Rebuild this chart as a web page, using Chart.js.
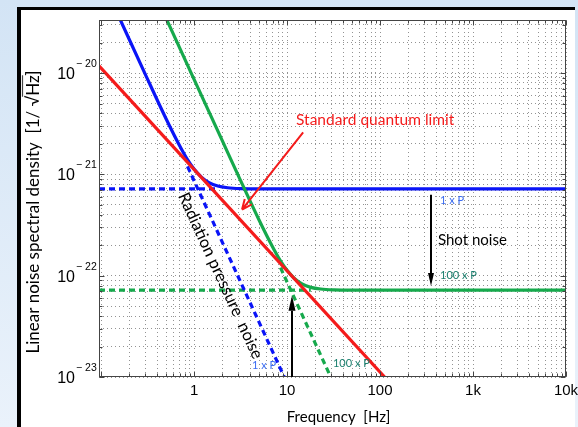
<!DOCTYPE html>
<html>
<head>
<meta charset="utf-8">
<script src="https://cdn.jsdelivr.net/npm/chart.js@4.4.1/dist/chart.umd.min.js"></script>
<style>
  html, body { margin: 0; padding: 0; }
  body { width: 578px; height: 427px; overflow: hidden; position: relative;
         background: linear-gradient(to bottom, #d3e4f5 0%, #eaf2fb 100%); }
  #panel { position: absolute; left: 17px; top: 7px; width: 554px; height: 430px;
           background: #fff; border-left: 4px solid #000; border-top: 3px solid #000; }
  #chart { position: absolute; left: 0; top: 0; }
</style>
</head>
<body>
<div id="panel"></div>
<canvas id="chart" width="578" height="427"></canvas>
<script>
/* ── axis ranges and labels ── */
const freqMin = 0.095, freqMax = 10000;
const noiseMin = 1e-23, noiseMax = 3.35e-20;
const xDecades = [0.1, 1, 10, 100, 1000, 10000];
const xLabels  = ['', '1', '10', '100', '1k', '10k'];
const yDecades = [1e-23, 1e-22, 1e-21, 1e-20];
const yExps    = ['23', '22', '21', '20'];

/* ── series ── */
// total noise, 1 x P
const blueFreq  = [0.15, 0.3, 0.5, 0.7, 0.85, 1.0, 1.2, 1.45, 1.8, 2.3, 3.2, 5, 10000];
const blueNoise = [3.87e-20, 9.69e-21, 3.55e-21, 1.92e-21, 1.40e-21, 1.13e-21, 9.4e-22, 8.3e-22, 7.68e-22, 7.39e-22, 7.25e-22, 7.21e-22, 7.2e-22];
// total noise, 100 x P
const greenFreq  = [0.45, 1, 2, 3, 5, 7, 8.5, 10, 12, 14.5, 18, 23, 32, 50, 10000];
const greenNoise = [4.3e-20, 8.7e-21, 2.18e-21, 9.69e-22, 3.55e-22, 1.92e-22, 1.40e-22, 1.13e-22, 9.4e-23, 8.3e-23, 7.68e-23, 7.39e-23, 7.25e-23, 7.21e-23, 7.2e-23];
// standard quantum limit
const sqlFreq  = [0.095, 112];
const sqlNoise = [1.18e-20, 1.0e-23];
// shot noise / radiation pressure noise (dashed)
const shot1Freq    = [0.095, 1.8];
const shot1Noise   = [7.2e-22, 7.2e-22];
const rp1Freq      = [0.85, 9.33];
const rp1Noise     = [1.2e-21, 1.0e-23];
const shot100Freq  = [0.095, 18];
const shot100Noise = [7.2e-23, 7.2e-23];
const rp100Freq    = [8.5, 29.5];
const rp100Noise   = [1.2e-22, 1.0e-23];

const BLUE = '#0a14f7', RED = '#f41b1b', GREEN = '#16a94c';
const FONT = 'Lato, "Open Sans", sans-serif';
const TICKFONT = '"Liberation Sans", Arial, sans-serif';

const pts = (xs, ys) => xs.map((x, i) => ({ x, y: ys[i] }));

function series(data, color, dashed) {
  return {
    data,
    borderColor: color,
    borderWidth: 3.2,
    borderDash: dashed ? [6, 4] : [],
    pointRadius: 0,
    fill: false,
    cubicInterpolationMode: dashed ? 'default' : 'monotone',
    clip: 0
  };
}

function logTicks(decades, min, max) {
  const out = [];
  decades.forEach(d => {
    for (let k = 1; k <= 9; k++) {
      const v = k * d;
      if (v >= min * 0.999 && v <= max * 1.001) out.push({ value: v });
    }
  });
  return out;
}

const isDecade = v => Math.abs(Math.log10(v) - Math.round(Math.log10(v))) < 1e-6;

function axis(min, max, decades) {
  return {
    type: 'logarithmic',
    min, max,
    afterBuildTicks: ax => { ax.ticks = logTicks(decades, min, max); },
    ticks: { display: false },
    grid: { color: '#939393', lineWidth: 1, drawTicks: false },
    border: { display: false, dash: [1, 3] }
  };
}

/* ── labels, box, annotations ── */
const decor = {
  id: 'decor',
  afterDatasetsDraw(chart) {
    const { ctx, chartArea: a, scales: { x, y } } = chart;
    const P = (f, v) => [x.getPixelForValue(f), y.getPixelForValue(v)];
    ctx.save();

    // box + inner tick marks
    ctx.strokeStyle = '#444';
    ctx.lineWidth = 1;
    ctx.setLineDash([]);
    const L = Math.round(a.left) + 0.5, R = Math.round(a.right) - 0.5;
    const T = Math.round(a.top) + 0.5, B = Math.round(a.bottom) - 0.5;
    ctx.strokeRect(L, T, R - L, B - T);
    ctx.beginPath();
    x.ticks.forEach(t => {
      const px = Math.round(x.getPixelForValue(t.value)) + 0.5;
      const len = isDecade(t.value) ? 5 : 3;
      ctx.moveTo(px, T); ctx.lineTo(px, T + len);
      ctx.moveTo(px, B); ctx.lineTo(px, B - len);
    });
    y.ticks.forEach(t => {
      const py = Math.round(y.getPixelForValue(t.value)) + 0.5;
      const len = isDecade(t.value) ? 5 : 3;
      ctx.moveTo(L, py); ctx.lineTo(L + len, py);
      ctx.moveTo(R, py); ctx.lineTo(R - len, py);
    });
    ctx.stroke();

    // x tick labels
    ctx.fillStyle = '#000';
    ctx.font = '15px ' + TICKFONT;
    ctx.textAlign = 'center';
    ctx.textBaseline = 'alphabetic';
    xDecades.forEach((v, i) => {
      if (xLabels[i]) ctx.fillText(xLabels[i], x.getPixelForValue(v), a.bottom + 18);
    });

    // y tick labels 10^-n
    yDecades.forEach((v, i) => {
      const py = y.getPixelForValue(v);
      ctx.font = '16px ' + TICKFONT;
      ctx.textAlign = 'right';
      ctx.fillText('10', a.left - 24, py + 6);
      ctx.font = '10.5px ' + TICKFONT;
      ctx.textAlign = 'left';
      ctx.fillText('\u2212 ' + yExps[i], a.left - 23, py - 6);
    });

    // axis titles
    ctx.font = '15px ' + FONT;
    ctx.textAlign = 'center';
    ctx.fillText('Frequency  [Hz]', (a.left + a.right) / 2 + 6, 422);

    ctx.save();
    ctx.translate(39, 212);
    ctx.rotate(-Math.PI / 2);
    ctx.font = '17px ' + FONT;
    const pre = 'Linear noise spectral density  [1/ \u221A';
    const full = pre + 'Hz]';
    const w = ctx.measureText(full).width;
    ctx.textAlign = 'left';
    ctx.fillText(full, -w / 2, 0);
    const hzStart = -w / 2 + ctx.measureText(pre).width - 1;
    const hzEnd = -w / 2 + ctx.measureText(pre + 'Hz').width;
    ctx.lineWidth = 1.2;
    ctx.beginPath();
    ctx.moveTo(hzStart, -16.5);
    ctx.lineTo(hzEnd, -16.5);
    ctx.stroke();
    ctx.restore();

    // standard quantum limit label + arrow
    ctx.fillStyle = RED;
    ctx.strokeStyle = RED;
    ctx.textAlign = 'left';
    ctx.textBaseline = 'middle';
    ctx.font = '15.5px ' + FONT;
    let [tx, ty] = P(12.5, 3.43e-21);
    ctx.fillText('Standard quantum limit', tx, ty);
    const [ax0, ay0] = P(14.9, 2.6e-21);
    const [ax1, ay1] = P(3.28, 4.5e-22);
    ctx.lineWidth = 2;
    ctx.beginPath();
    ctx.moveTo(ax0, ay0); ctx.lineTo(ax1, ay1);
    const ang = Math.atan2(ay1 - ay0, ax1 - ax0);
    [-0.42, 0.42].forEach(d => {
      ctx.moveTo(ax1, ay1);
      ctx.lineTo(ax1 - 11 * Math.cos(ang + d), ay1 - 11 * Math.sin(ang + d));
    });
    ctx.stroke();

    // black arrows
    function arrow(x0, y0, x1, y1, headLen, headW) {
      const an = Math.atan2(y1 - y0, x1 - x0);
      ctx.strokeStyle = '#000';
      ctx.fillStyle = '#000';
      ctx.lineWidth = 2;
      ctx.beginPath();
      ctx.moveTo(x0, y0);
      ctx.lineTo(x1 - headLen * Math.cos(an), y1 - headLen * Math.sin(an));
      ctx.stroke();
      ctx.beginPath();
      ctx.moveTo(x1, y1);
      ctx.lineTo(x1 - headLen * Math.cos(an) + headW * Math.sin(an), y1 - headLen * Math.sin(an) - headW * Math.cos(an));
      ctx.lineTo(x1 - headLen * Math.cos(an) - headW * Math.sin(an), y1 - headLen * Math.sin(an) + headW * Math.cos(an));
      ctx.closePath();
      ctx.fill();
    }
    const s0 = P(350, 6.3e-22), s1 = P(350, 7.9e-23);
    arrow(Math.round(s0[0]), s0[1], Math.round(s1[0]), s1[1], 13, 3);
    const u0 = P(11.2, 1e-23), u1 = P(11.2, 6.34e-23);
    arrow(Math.round(u0[0]), u0[1], Math.round(u1[0]), u1[1], 15, 3.5);

    // shot noise labels
    ctx.fillStyle = '#000';
    ctx.font = '15px ' + FONT;
    [tx, ty] = P(420, 2.27e-22);
    ctx.fillText('Shot noise', tx, ty);
    ctx.font = '11px ' + FONT;
    ctx.fillStyle = '#3b6cf2';
    [tx, ty] = P(442, 5.53e-22);
    ctx.fillText('1 x P', tx, ty);
    [tx, ty] = P(4.2, 1.31e-23);
    ctx.fillText('1 x P', tx, ty);
    ctx.fillStyle = '#1b7f6e';
    [tx, ty] = P(442, 1.0e-22);
    ctx.fillText('100 x P', tx, ty);
    [tx, ty] = P(31.2, 1.35e-23);
    ctx.fillText('100 x P', tx, ty);

    // radiation pressure label along the slope
    const r0 = P(1, 1e-21), r1 = P(10, 1e-23);
    const slope = Math.atan2(r1[1] - r0[1], r1[0] - r0[0]);
    [tx, ty] = P(1.92, 1.0e-22);
    ctx.save();
    ctx.translate(tx, ty);
    ctx.rotate(slope);
    ctx.fillStyle = '#000';
    ctx.font = '16.5px ' + FONT;
    ctx.textAlign = 'center';
    ctx.fillText('Radiation pressure  noise', 0, 0);
    ctx.restore();

    ctx.restore();
  }
};

new Chart(document.getElementById('chart'), {
  type: 'line',
  data: {
    datasets: [
      series(pts(sqlFreq, sqlNoise), RED, false),
      series(pts(greenFreq, greenNoise), GREEN, false),
      series(pts(blueFreq, blueNoise), BLUE, false),
      series(pts(shot1Freq, shot1Noise), BLUE, true),
      series(pts(rp1Freq, rp1Noise), BLUE, true),
      series(pts(shot100Freq, shot100Noise), GREEN, true),
      series(pts(rp100Freq, rp100Noise), GREEN, true)
    ]
  },
  options: {
    responsive: false,
    devicePixelRatio: 1,
    animation: false,
    layout: { padding: { left: 99, right: 12, top: 20, bottom: 50 } },
    plugins: { legend: { display: false }, tooltip: { enabled: false } },
    scales: {
      x: axis(freqMin, freqMax, xDecades),
      y: axis(noiseMin, noiseMax, yDecades)
    }
  },
  plugins: [decor]
});
</script>
</body>
</html>
